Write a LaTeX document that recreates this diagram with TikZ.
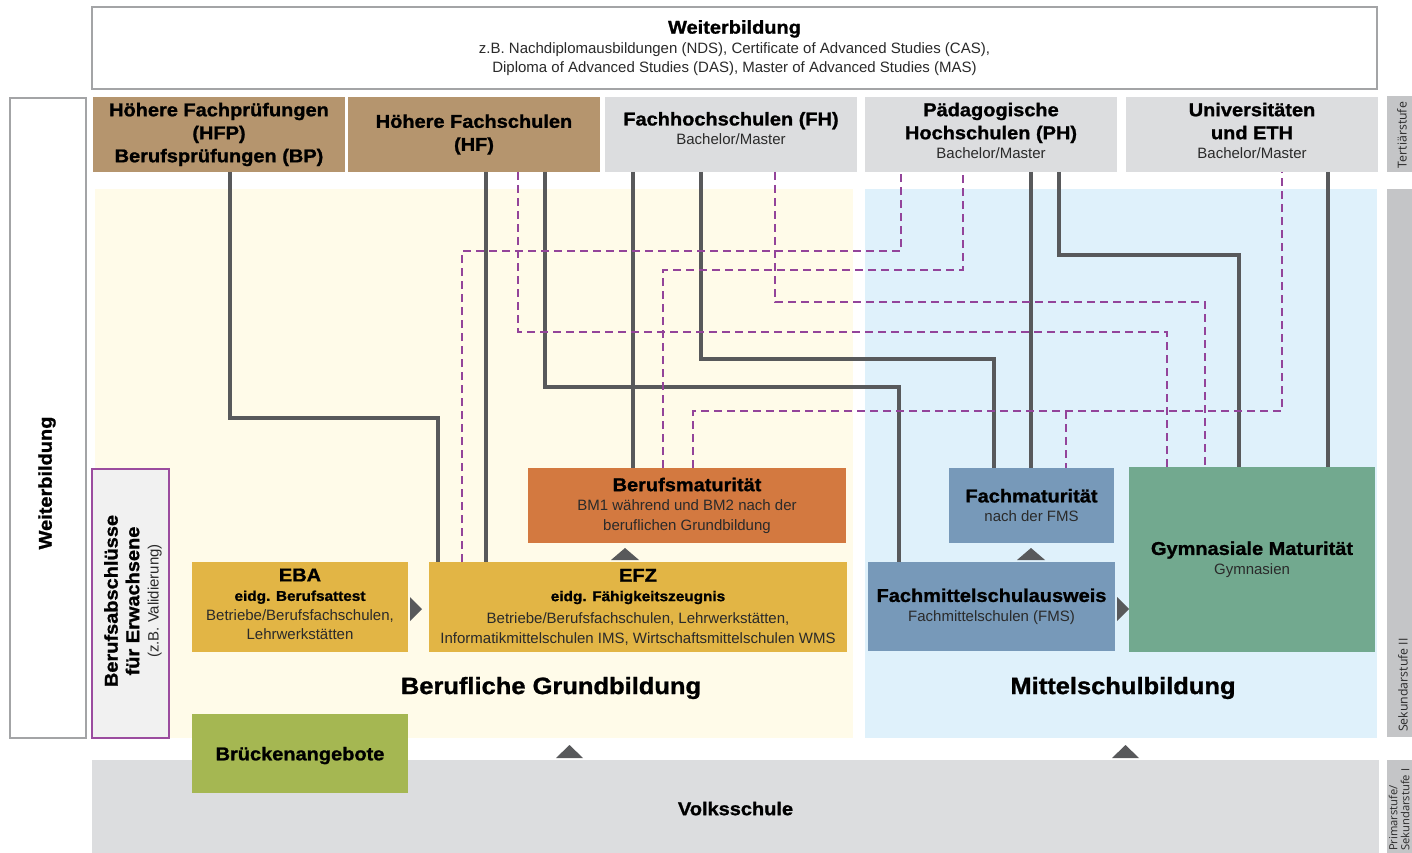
\documentclass[tikz,border=0pt]{standalone}
\usepackage{fontspec}
\setmainfont{Liberation Sans}
\newfontfamily\hbfam{Liberation Sans}[FakeStretch=1.08,FakeBold=1.2]
\newfontfamily\lblfam{Open Sans}
\newcommand\fHead{\hbfam\bfseries\fontsize{18.5}{23}\selectfont}
\newcommand\fSub{\hbfam\bfseries\fontsize{14.2}{19.5}\selectfont}
\newcommand\fReg{\fontsize{15}{19.5}\selectfont\lineskiplimit=-20pt\relax}
\newcommand\fBig{\hbfam\bfseries\fontsize{23.6}{28}\selectfont}
\newcommand\fLbl{\lblfam\fontsize{12.3}{14}\selectfont}
\newcommand\fLbs{\lblfam\fontsize{11.2}{12}\selectfont}
\definecolor{frameg}{HTML}{A3A4A6}
\definecolor{brownb}{HTML}{B5956E}
\definecolor{tgray}{HTML}{DCDDDF}
\definecolor{ybg}{HTML}{FFFBE9}
\definecolor{bbg}{HTML}{DFF1FB}
\definecolor{yelb}{HTML}{E2B545}
\definecolor{orab}{HTML}{D37940}
\definecolor{blub}{HTML}{7799B9}
\definecolor{greb}{HTML}{72A98F}
\definecolor{brub}{HTML}{A5B752}
\definecolor{lineg}{HTML}{58595B}
\definecolor{purp}{HTML}{93449A}
\definecolor{lblbar}{HTML}{C4C5C7}
\definecolor{erwb}{HTML}{F1F1F1}
\definecolor{erwr}{HTML}{9B4C9F}
\definecolor{txtg}{HTML}{2A2A2A}
\begin{document}
\begin{tikzpicture}[x=1pt,y=-1pt,
  box/.style={inner sep=0pt,outer sep=0pt,anchor=north west,align=center,font=\fReg,text=txtg},
  sol/.style={line width=4.5pt,draw=lineg},
  dsh/.style={line width=1.8pt,draw=purp,dash pattern=on 8pt off 5pt},
  tri/.style={fill=lineg},
  lbl/.style={font=\fLbl,text=txtg,rotate=90,inner sep=0pt}]
\useasboundingbox (0,0) rectangle (1412,853);
\fill[white] (0,0) rectangle (1412,853);
% background regions
\fill[ybg] (95,189) rectangle (853,738);
\fill[bbg] (865,189) rectangle (1377,738);
% right level bars
\fill[lblbar] (1387,96) rectangle (1412,172);
\fill[lblbar] (1387,189) rectangle (1412,737);
\fill[lblbar] (1387,760) rectangle (1412,853);
\node[lbl] (lt) at (1402,135) {Tertiärstufe};
\node[lbl,anchor=west] (ls) at (1403,732) {Sekundarstufe II};
\node[lbl,font=\fLbs,anchor=north west,align=left] (lp) at (1388.5,851) {Primarstufe/\\Sekundarstufe I};
% top and left Weiterbildung
\node[box,draw=frameg,line width=1.8pt,fill=white,minimum width=1285pt,minimum height=82pt] (wb) at (92,7)
  {{\fHead\color{black}Weiterbildung}\\z.B. Nachdiplomausbildungen (NDS), Certificate of Advanced Studies (CAS),\\Diploma of Advanced Studies (DAS), Master of Advanced Studies (MAS)};
\node[draw=frameg,line width=1.8pt,fill=white,inner sep=0pt,anchor=north west,minimum width=76pt,minimum height=640pt] (wbl) at (9,97) {};
\node[font=\fHead,rotate=90,inner sep=0pt] (wbt) at (47,483) {Weiterbildung};
% tertiary
\node[box,fill=brownb,minimum width=252pt,minimum height=75pt,font=\fHead,text=black] (hfp) at (93,97)
  {Höhere Fachprüfungen\\(HFP)\\Berufsprüfungen (BP)};
\node[box,fill=brownb,minimum width=252pt,minimum height=75pt,font=\fHead,text=black] (hf) at (348,97)
  {Höhere Fachschulen\\(HF)};
\node[box,fill=tgray,minimum width=252pt,minimum height=75pt,text depth=12pt] (fh) at (605,97)
  {{\fHead\color{black}Fachhochschulen (FH)}\\Bachelor/Master};
\node[box,fill=tgray,minimum width=252pt,minimum height=75pt,text depth=7.5pt] (ph) at (865,97)
  {{\fHead\color{black}Pädagogische}\\[3.5pt]{\fHead\color{black}Hochschulen (PH)}\\Bachelor/Master};
\node[box,fill=tgray,minimum width=252pt,minimum height=75pt,text depth=7.5pt] (uni) at (1126,97)
  {{\fHead\color{black}Universitäten}\\[3.5pt]{\fHead\color{black}und ETH}\\Bachelor/Master};
% Volksschule, Bruecke
\node[box,fill=tgray,minimum width=1287pt,minimum height=93pt,font=\fHead,text=black,text height=17.5pt] (vs) at (92,760) {Volksschule};
\node[box,fill=brub,minimum width=216pt,minimum height=79pt,font=\fHead,text=black,text height=17.5pt] (bru) at (192,714) {Brückenangebote};
% Erwachsene
\node[draw=erwr,line width=1.5pt,fill=erwb,anchor=north west,inner sep=0pt,minimum width=77pt,minimum height=269pt] (erw) at (91,468) {};
\node[rotate=90,inner sep=0pt,align=center,font=\fReg,text=txtg] (erwt) at (133,601)
  {{\fHead\color{black}Berufsabschlüsse}\\[2pt]{\fHead\color{black}für Erwachsene}\\(z.B. Validierung)};
% inner boxes
\node[box,fill=yelb,minimum width=216pt,minimum height=90pt,text depth=5.5pt] (eba) at (192,562)
  {{\fHead\color{black}EBA}\\{\fSub\color{black}eidg. Berufsattest}\\Betriebe/Berufsfachschulen,\\Lehrwerkstätten};
\node[box,fill=yelb,minimum width=418pt,minimum height=90pt] (efz) at (429,562)
  {{\fHead\color{black}EFZ}\\{\fSub\color{black}eidg. Fähigkeitszeugnis}\\[3pt]Betriebe/Berufsfachschulen, Lehrwerkstätten,\\Informatikmittelschulen IMS, Wirtschaftsmittelschulen WMS};
\node[box,fill=orab,minimum width=318pt,minimum height=75pt] (bm) at (528,468)
  {{\fHead\color{black}Berufsmaturität}\\BM1 während und BM2 nach der\\beruflichen Grundbildung};
\node[box,fill=blub,minimum width=247pt,minimum height=89pt] (fms) at (868,562)
  {{\fHead\color{black}Fachmittelschulausweis}\\Fachmittelschulen (FMS)};
\node[box,fill=blub,minimum width=165pt,minimum height=75pt] (fm) at (949,468)
  {{\fHead\color{black}Fachmaturität}\\nach der FMS};
\node[box,fill=greb,minimum width=246pt,minimum height=185pt] (gym) at (1129,467)
  {{\fHead\color{black}Gymnasiale Maturität}\\Gymnasien};
% section labels
\node[font=\fBig,inner sep=0pt] (lbg) at (551,688) {Berufliche Grundbildung};
\node[font=\fBig,inner sep=0pt] (lms) at (1123,688) {Mittelschulbildung};
% triangles
\fill[tri] (611,560) -- (639,560) -- (625,548) -- cycle;
\fill[tri] (1017,560) -- (1045,560) -- (1031,548) -- cycle;
\fill[tri] (556,758) -- (583,758) -- (569.5,745) -- cycle;
\fill[tri] (1112,758) -- (1139,758) -- (1125.5,745) -- cycle;
\fill[tri] (410,597) -- (410,621) -- (422,609) -- cycle;
\fill[tri] (1117,597) -- (1117,621) -- (1129,609) -- cycle;
% solid connectors
\draw[sol] (230,0 |- hfp.south) |- (438,418) -- (438,0 |- efz.north);
\draw[sol] (486,0 |- hf.south) -- (486,0 |- efz.north);
\draw[sol] (545,0 |- hf.south) |- (899,387) -- (899,0 |- fms.north);
\draw[sol] (633,0 |- fh.south) -- (633,0 |- bm.north);
\draw[sol] (701,0 |- fh.south) |- (994,359) -- (994,0 |- fm.north);
\draw[sol] (1031,0 |- ph.south) -- (1031,0 |- fm.north);
\draw[sol] (1059,0 |- ph.south) |- (1239,255) -- (1239,0 |- gym.north);
\draw[sol] (1328,0 |- uni.south) -- (1328,0 |- gym.north);
% dashed connectors
\coordinate (j5) at (1066,411);
\draw[dsh] (462,0 |- efz.north) |- (901,251) -- (901,0 |- ph.south);
\draw[dsh] (663,0 |- bm.north) |- (963,270) -- (963,0 |- ph.south);
\draw[dsh] (518,0 |- hf.south) |- (1167,332) -- (1167,0 |- gym.north);
\draw[dsh] (775,0 |- fh.south) |- (1205,302) -- (1205,0 |- gym.north);
\draw[dsh] (693,0 |- bm.north) |- (1282,411) -- (1282,0 |- uni.south);
\draw[dsh] (j5) -- (1066,0 |- fm.north);
\end{tikzpicture}
\end{document}
